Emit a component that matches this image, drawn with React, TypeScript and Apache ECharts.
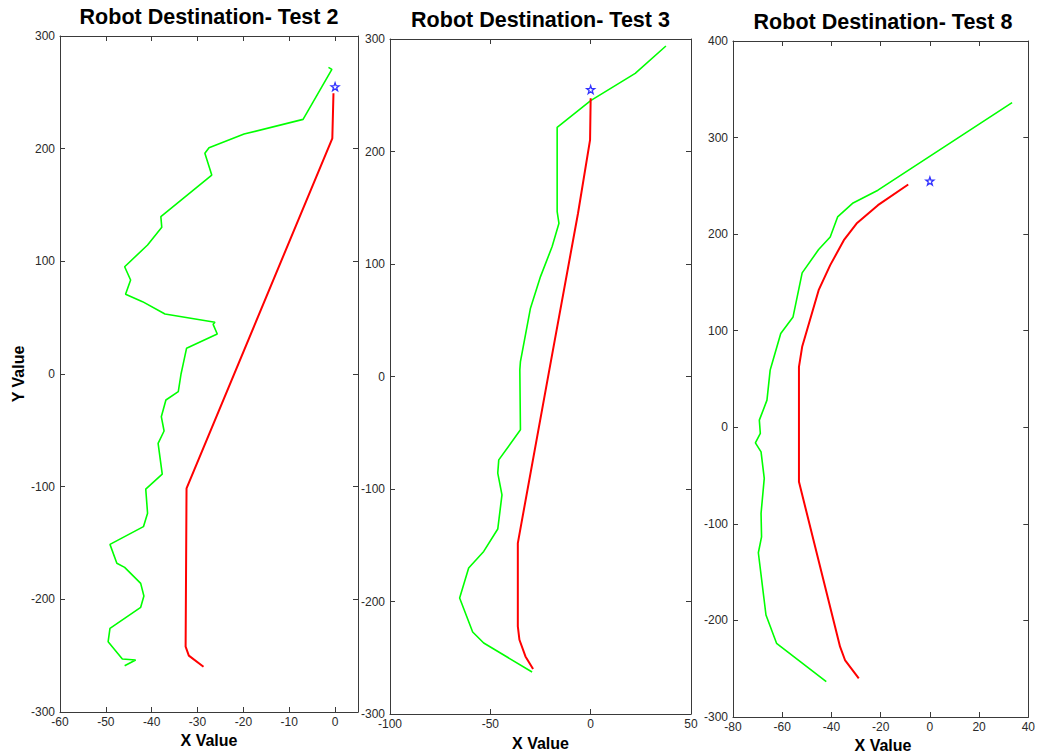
import React, { useEffect, useRef } from "react";
import * as echarts from "echarts";

// Robot paths per test: [x, y] samples, start (bottom) to end (top)
const test2Green: number[][] = [
  [-45.9, -258.9], [-43.5, -253.8], [-46.4, -253], [-49.5, -237.6], [-49.1, -225.7],
  [-42.4, -207.1], [-41.7, -197], [-42.4, -185.8], [-45.9, -171.6], [-47.6, -168],
  [-49.1, -151.2], [-41.8, -135.5], [-40.9, -123.6], [-41.3, -102.1], [-37.7, -88.8],
  [-38.6, -61.5], [-37.3, -50.6], [-37.9, -37.9], [-36.9, -23.1], [-34.2, -15.7],
  [-33.6, 0], [-33.1, 9.5], [-32.4, 22.8], [-25.7, 35.5], [-26.6, 44.1], [-26.2, 45.9],
  [-37.1, 53.3], [-42.0, 64.2], [-45.7, 70.7], [-44.6, 83.4], [-45.9, 95.2],
  [-40.9, 114.5], [-37.8, 130.2], [-38.0, 139.6], [-26.9, 176.6], [-28.4, 195.9],
  [-27.5, 200.9], [-19.85, 213], [-6.98, 226], [-0.7, 270.4], [-1.44, 272.2],
];
const test2Red: number[][] = [
  [-28.7, -259.8], [-31.9, -250], [-32.6, -242], [-32.4, -101.5], [-0.6, 209.2], [-0.35, 249.1],
];

const test3Green: number[][] = [
  [-29.2, -262.7], [-53.3, -236.9], [-58.8, -227.1], [-65.3, -196.9], [-60.8, -170.3],
  [-53.3, -155.5], [-46.3, -135.6], [-44.2, -105.2], [-46.3, -85.9], [-45.8, -74.1],
  [-35, -47.4], [-35.3, 5.9], [-35, 13.3], [-30, 60.7], [-25, 88.8], [-19.2, 115.5],
  [-15.8, 136.2], [-16.7, 146.6], [-16.7, 221.5], [0, 245.2], [22.2, 269.5], [37.5, 293.8],
];
const test3Red: number[][] = [
  [-28.7, -260], [-32.5, -248.8], [-35.5, -234], [-36.3, -222.2], [-36.3, -148.1],
  [-34.5, -130.3], [-20.6, 5.9], [-6.3, 145.1], [-0.3, 210.3], [0, 247.3],
];

const test8Green: number[][] = [
  [-42.1, -263.4], [-62.3, -223.7], [-66.6, -194.4], [-69.7, -129.9], [-68.4, -113.4],
  [-68.6, -89.1], [-67.3, -52.9], [-68.6, -25.4], [-70.9, -16.1], [-68.9, -6.4],
  [-69.3, 7.4], [-66.2, 28.1], [-64.9, 59.2], [-64.3, 64.4], [-60.6, 97.2],
  [-55.6, 114.3], [-51.9, 159.9], [-45.2, 184.1], [-40.5, 197.1], [-37.5, 217.8],
  [-31.2, 232.3], [-21.1, 245.5], [33.4, 336.2],
];
const test8Red: number[][] = [
  [-28.9, -259.9], [-34.5, -241], [-36.5, -227.2], [-53.2, -56.4], [-53.2, 62.6],
  [-51.9, 83.3], [-45.2, 142], [-40.5, 167.9], [-34.8, 194.4], [-29.8, 211],
  [-21.1, 230], [-8.8, 251.4],
];

const destination: number[][] = [[0, 255]];

const titles = ["Robot Destination- Test 2", "Robot Destination- Test 3", "Robot Destination- Test 8"];

// axis extents per panel: [min, max, step]
const xRanges = [[-60, 5, 10], [-100, 50, 50], [-80, 40, 20]];
const yRanges = [[-300, 300, 100], [-300, 300, 100], [-300, 400, 100]];

const grids = [
  { left: 60, top: 36, width: 298, height: 676 },
  { left: 390, top: 39, width: 301, height: 675 },
  { left: 733, top: 41, width: 300, height: 676 },
];

const FONT = "'Liberation Sans', Arial, sans-serif";
const AXIS_COLOR = "#3a3a3a";
const STAR =
  "path://M0,-10L2.35,-3.24L9.51,-3.09L3.8,1.24L5.88,8.09L0,4L-5.88,8.09L-3.8,1.24L-9.51,-3.09L-2.35,-3.24Z";

function makeAxis(kind: "x" | "y", idx: number, pos: string, labels: boolean, range: number[], hideMax: boolean) {
  return {
    type: "value",
    gridIndex: idx,
    position: pos,
    min: range[0],
    max: range[1],
    interval: range[2],
    splitLine: { show: false },
    axisLine: { show: true, onZero: false, lineStyle: { color: AXIS_COLOR, width: 1 } },
    axisTick: { show: true, inside: true, length: 5, lineStyle: { color: AXIS_COLOR } },
    axisLabel: {
      show: labels,
      color: "#2a2a2a",
      fontSize: 12,
      fontFamily: FONT,
      margin: kind === "x" ? 4 : 5,
      showMaxLabel: !hideMax,
    },
  };
}

export default function App() {
  const ref = useRef<HTMLDivElement>(null);

  useEffect(() => {
    if (!ref.current) return;
    const chart = echarts.init(ref.current, null, { renderer: "svg" });

    const xAxis: any[] = [];
    const yAxis: any[] = [];
    grids.forEach((_, i) => {
      const hideMax = i === 0;
      xAxis.push(makeAxis("x", i, "bottom", true, xRanges[i], hideMax));
      xAxis.push(makeAxis("x", i, "top", false, xRanges[i], hideMax));
      yAxis.push(makeAxis("y", i, "left", true, yRanges[i], false));
      yAxis.push(makeAxis("y", i, "right", false, yRanges[i], false));
    });

    const paths = [
      [test2Green, test2Red],
      [test3Green, test3Red],
      [test8Green, test8Red],
    ];

    const series: any[] = [];
    paths.forEach(([green, red], i) => {
      series.push({
        type: "line",
        xAxisIndex: i * 2,
        yAxisIndex: i * 2,
        data: green,
        showSymbol: false,
        lineStyle: { color: "#00ff00", width: 1.6 },
        z: 2,
      });
      series.push({
        type: "line",
        xAxisIndex: i * 2,
        yAxisIndex: i * 2,
        data: red,
        showSymbol: false,
        lineStyle: { color: "#ff0000", width: 2 },
        z: 3,
      });
      series.push({
        type: "scatter",
        xAxisIndex: i * 2,
        yAxisIndex: i * 2,
        data: destination,
        symbol: STAR,
        symbolSize: 8,
        itemStyle: { color: "#ffffff", borderColor: "#0000ff", borderWidth: 1.3 },
        z: 4,
      });
    });

    const titleY = [17, 19.5, 21.5];
    const xNameY = [740, 743, 745];
    const graphic: any[] = [];
    grids.forEach((g, i) => {
      graphic.push({
        type: "text",
        x: g.left + g.width / 2,
        y: titleY[i],
        style: {
          text: titles[i],
          fill: "#000",
          font: `bold 21.5px ${FONT}`,
          textAlign: "center",
          textVerticalAlign: "middle",
        },
      });
      graphic.push({
        type: "text",
        x: g.left + g.width / 2,
        y: xNameY[i],
        style: {
          text: "X Value",
          fill: "#000",
          font: `bold 16px ${FONT}`,
          textAlign: "center",
          textVerticalAlign: "middle",
        },
      });
    });
    graphic.push({
      type: "text",
      x: 18,
      y: 374,
      rotation: Math.PI / 2,
      style: {
        text: "Y Value",
        fill: "#000",
        font: `bold 16px ${FONT}`,
        textAlign: "center",
        textVerticalAlign: "middle",
      },
    });

    chart.setOption({
      animation: false,
      backgroundColor: "#ffffff",
      grid: grids.map((g) => ({ ...g, containLabel: false })),
      xAxis,
      yAxis,
      series,
      graphic,
    });

    return () => chart.dispose();
  }, []);

  return (
    <div
      ref={ref}
      style={{ position: "absolute", left: 0, top: 0, width: 1038, height: 752 }}
    />
  );
}
